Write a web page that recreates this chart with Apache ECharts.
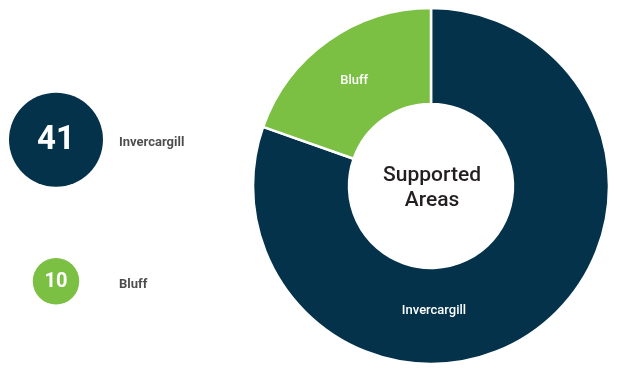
<!DOCTYPE html>
<html><head><meta charset="utf-8">
<script src="https://cdn.jsdelivr.net/npm/echarts@6/dist/echarts.min.js"></script>
<style>html,body{margin:0;padding:0;background:#fff}#c{width:621px;height:372px}</style>
</head><body><div id="c"></div>
<script>
const categories = ['Invercargill', 'Bluff'];
const values = [41, 10];
const centerTitle = ['Supported', 'Areas'];
const colors = ['#04324b', '#7bc043'];
const FONT = 'Roboto';

const chart = echarts.init(document.getElementById('c'));
const pieCx = 431, pieCy = 186;
chart.setOption({
  animation: false,
  color: colors,
  grid: { left: 56, width: 63, top: 69, height: 283 },
  xAxis: { type: 'value', min: 0, max: 1, show: false },
  yAxis: { type: 'category', data: categories, inverse: true, show: false },
  graphic: [{
    type: 'text', x: pieCx + 1, y: pieCy + 2,
    style: { text: centerTitle.join('\n'), fontFamily: FONT, fontSize: 21, fontWeight: 500, fill: '#231f20',
      align: 'center', verticalAlign: 'middle', lineHeight: 25 }
  }],
  series: [
    {
      type: 'scatter',
      data: values.map((v, i) => ({
        value: [0, categories[i]],
        itemStyle: { color: colors[i], opacity: 1 },
        label: { fontSize: i === 0 ? 33 : 20 }
      })),
      symbolSize: (val, p) => 14.68 * Math.sqrt(values[p.dataIndex]),
      itemStyle: { opacity: 1 },
      label: {
        show: true, position: 'inside', color: '#fff', fontFamily: FONT, fontWeight: 'bold',
        formatter: p => String(values[p.dataIndex]), offset: [0, 1]
      },
      emphasis: { disabled: true }
    },
    {
      type: 'scatter',
      data: categories.map(c => [1, c]),
      symbolSize: 0,
      label: { show: true, position: 'right', distance: 0, offset: [0, 3], color: '#1f1f1f', fontFamily: FONT,
        fontWeight: 'bold', fontSize: 13, formatter: p => categories[p.dataIndex] },
      emphasis: { disabled: true }
    },
    {
      type: 'pie',
      center: [pieCx, pieCy],
      radius: [82, 178],
      startAngle: 90,
      data: categories.map((c, i) => ({ name: c, value: values[i] })),
      itemStyle: { borderColor: '#fff', borderWidth: 2.5 },
      label: { show: true, position: 'inside', color: '#fff', fontFamily: FONT, fontSize: 13, fontWeight: 500 },
      labelLine: { show: false },
      labelLayout: p => p.dataIndex === 0
        ? { x: pieCx + 3, y: pieCy + 125, align: 'center', verticalAlign: 'middle' }
        : { dy: 3 },
      emphasis: { disabled: true }
    }
  ]
});
</script></body></html>
